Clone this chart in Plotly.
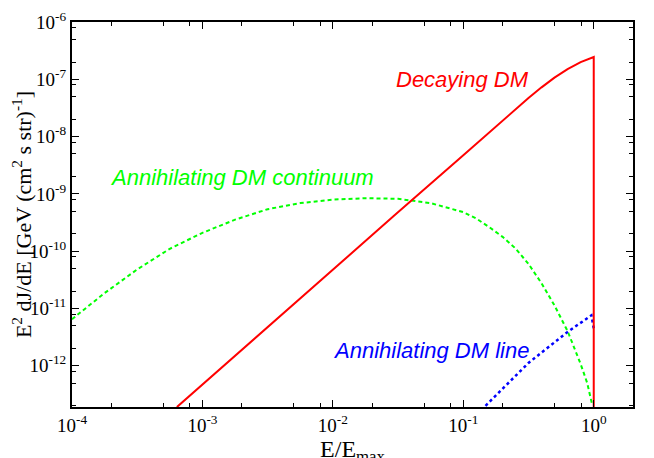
import plotly.graph_objects as go

# Decaying DM (red solid)
dec_x = [6.37e-4, 1e-3, 3e-3, 1e-2, 3e-2, 0.1, 0.18, 0.25, 0.316, 0.398, 0.5, 0.63, 0.794, 1.0, 1.0]
dec_y = [1.9e-13, 4.7e-13, 4.3e-12, 4.7e-11, 4.3e-10, 4.7e-9, 1.55e-8, 3.0e-8, 4.73e-8, 7.24e-8,
         1.07e-7, 1.51e-7, 2.0e-7, 2.45e-7, 1e-14]

# Annihilating DM continuum (green dashed)
cont_x = [1e-4, 1.78e-4, 3.16e-4, 5.62e-4, 1e-3, 1.78e-3, 3.16e-3, 5.62e-3, 1e-2, 1.78e-2,
          3.16e-2, 5.62e-2, 0.1, 0.126, 0.158, 0.2, 0.251, 0.316, 0.398, 0.501, 0.631, 0.794,
          0.891, 0.977]
cont_y = [6.5e-12, 1.86e-11, 4.8e-11, 1.1e-10, 2.09e-10, 3.55e-10, 5.4e-10, 6.9e-10, 7.94e-10, 8.4e-10,
          8.2e-10, 6.9e-10, 4.8e-10, 3.7e-10, 2.63e-10, 1.78e-10, 1.12e-10, 6.0e-11, 2.75e-11, 1.12e-11,
          4.0e-12, 1.07e-12, 5.0e-13, 2.0e-13]

# Annihilating DM line (blue dotted)
line_x = [0.148, 0.316, 0.631, 0.96, 1.0]
line_y = [2.0e-13, 1.12e-12, 3.9e-12, 7.6e-12, 4.5e-12]

x_tickvals = [1e-4, 1e-3, 1e-2, 1e-1, 1]
x_ticktext = ["10<sup>-4</sup>", "10<sup>-3</sup>", "10<sup>-2</sup>", "10<sup>-1</sup>", "10<sup>0</sup>"]
y_tickvals = [1e-12, 1e-11, 1e-10, 1e-9, 1e-8, 1e-7, 1e-6]
y_ticktext = ["10<sup>-12</sup>", "10<sup>-11</sup>", "10<sup>-10</sup>", "10<sup>-9</sup>",
              "10<sup>-8</sup>", "10<sup>-7</sup>", "10<sup>-6</sup>"]
minor_mult = [2, 5, 8]
x_minor = [m * 10.0 ** e for e in range(-4, 1) for m in minor_mult]
y_minor = [m * 10.0 ** e for e in range(-13, -6) for m in minor_mult]

fig = go.Figure()
fig.add_trace(go.Scatter(x=cont_x, y=cont_y, mode="lines",
                         line=dict(color="#00ff00", width=2, dash="4px,3px")))
fig.add_trace(go.Scatter(x=line_x, y=line_y, mode="lines",
                         line=dict(color="#0000ff", width=2.5, dash="dot")))
fig.add_trace(go.Scatter(x=dec_x, y=dec_y, mode="lines",
                         line=dict(color="#ff0000", width=2)))

ann_font = dict(family="Liberation Sans", size=22, style="italic")
fig.add_annotation(x=-1.006, y=-6.995, text="Decaying DM", showarrow=False,
                   font=dict(ann_font, color="#ff0000"), xanchor="center", yanchor="middle")
fig.add_annotation(x=-2.695, y=-8.71, text="Annihilating DM continuum", showarrow=False,
                   font=dict(ann_font, color="#00ff00"), xanchor="center", yanchor="middle")
fig.add_annotation(x=-1.251, y=-11.73, text="Annihilating DM line", showarrow=False,
                   font=dict(ann_font, color="#0000ff"), xanchor="center", yanchor="middle")

axis_common = dict(showline=True, linecolor="black", linewidth=2, mirror="allticks",
                   ticks="inside", ticklen=7, tickwidth=1, tickcolor="black",
                   showgrid=False, zeroline=False, automargin=False, ticklabeloverflow="allow",
                   tickfont=dict(family="Liberation Serif", size=19, color="black"))

fig.update_xaxes(type="log", range=[-4, 0.301], tickmode="array",
                 tickvals=x_tickvals, ticktext=x_ticktext,
                 minor=dict(tickmode="array", tickvals=x_minor, ticks="inside", ticklen=4,
                            tickwidth=1, tickcolor="black", showgrid=False),
                 title=dict(text="E/E<sub>max</sub>", font=dict(family="Liberation Serif", size=24, color="black"),
                            standoff=14),
                 **axis_common)
fig.update_yaxes(type="log", range=[-12.72, -6], tickmode="array",
                 tickvals=y_tickvals, ticktext=y_ticktext,
                 minor=dict(tickmode="array", tickvals=y_minor, ticks="inside", ticklen=4,
                            tickwidth=1, tickcolor="black", showgrid=False),
                 title=dict(text="E<sup>2</sup> dJ/dE [GeV (cm<sup>2</sup> s str)<sup>-1</sup>]",
                            font=dict(family="Liberation Serif", size=22, color="black"), standoff=2),
                 **axis_common)

fig.update_layout(width=654, height=458, margin=dict(l=64, r=29, t=14, b=59),
                  paper_bgcolor="white", plot_bgcolor="white", showlegend=False)
fig.write_html("out.html")
